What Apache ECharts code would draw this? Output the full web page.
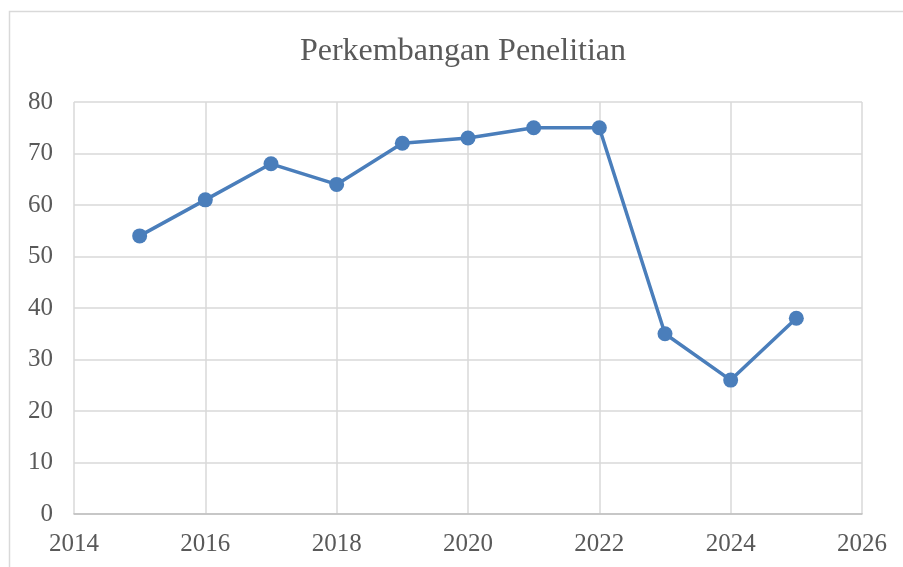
<!DOCTYPE html>
<html>
<head>
<meta charset="utf-8">
<script src="https://cdn.jsdelivr.net/npm/echarts@6/dist/echarts.min.js"></script>
<style>
html,body{margin:0;padding:0;background:#fff;}
#chart{width:903px;height:567px;}
</style>
</head>
<body>
<div id="chart"></div>
<script>
var titleText = "Perkembangan Penelitian";
var years = [2015, 2016, 2017, 2018, 2019, 2020, 2021, 2022, 2023, 2024, 2025];
var values = [54, 61, 68, 64, 72, 73, 75, 75, 35, 26, 38];

var points = years.map(function (y, i) { return [y, values[i]]; });
var chart = echarts.init(document.getElementById('chart'));
var fontFam = '"Liberation Serif", "Times New Roman", serif';
chart.setOption({
  animation: false,
  backgroundColor: '#ffffff',
  graphic: [{
    type: 'rect',
    shape: { x: 9.5, y: 11.5, width: 1000, height: 700 },
    style: { fill: 'none', stroke: '#d9d9d9', lineWidth: 1.5 },
    silent: true
  }],
  title: {
    text: titleText,
    left: 458,
    top: 31,
    textAlign: 'center',
    textStyle: { fontFamily: fontFam, fontSize: 32, fontWeight: 'normal', color: '#595959' }
  },
  grid: { left: 74, right: 41, top: 102, bottom: 53, containLabel: false },
  xAxis: {
    type: 'value',
    min: 2014, max: 2026, interval: 2,
    axisLine: { show: true, lineStyle: { color: '#bfbfbf', width: 1.5 } },
    axisTick: { show: false },
    splitLine: { show: true, lineStyle: { color: '#d9d9d9', width: 1.5 } },
    axisLabel: {
      color: '#595959', fontFamily: fontFam, fontSize: 25, margin: 18,
      showMinLabel: true, showMaxLabel: true,
      formatter: function (v) { return String(v); }
    }
  },
  yAxis: {
    type: 'value',
    min: 0, max: 80, interval: 10,
    axisLine: { show: false },
    axisTick: { show: false },
    splitLine: { show: true, lineStyle: { color: '#d9d9d9', width: 1.5 } },
    axisLabel: { color: '#595959', fontFamily: fontFam, fontSize: 25, margin: 21 }
  },
  series: [{
    type: 'line',
    data: points,
    symbol: 'circle',
    symbolSize: 15,
    lineStyle: { color: '#4a7ebb', width: 3.5 },
    itemStyle: { color: '#4a7ebb' }
  }]
});
</script>
</body>
</html>
